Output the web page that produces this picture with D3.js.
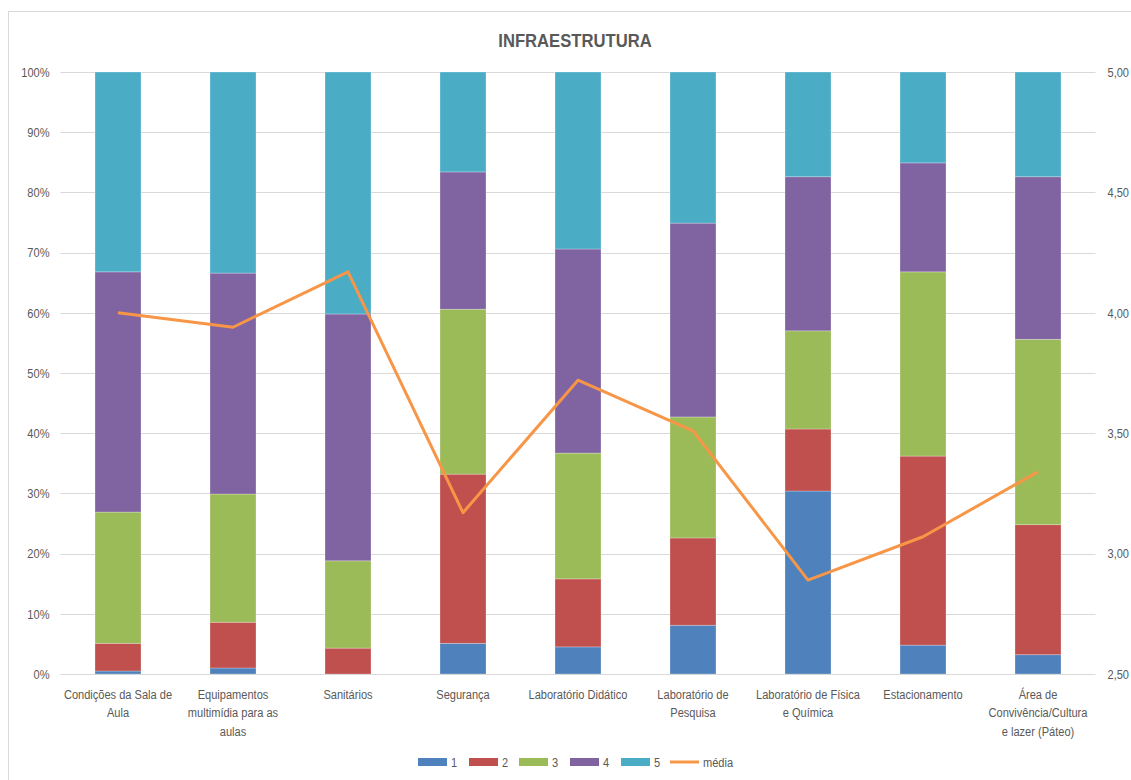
<!DOCTYPE html>
<html>
<head>
<meta charset="utf-8">
<script src="https://cdn.jsdelivr.net/npm/d3@7"></script>
<style>
  html, body { margin: 0; padding: 0; background: #ffffff; }
  svg { display: block; }
  text { font-family: "Liberation Sans", Arial, sans-serif; }
</style>
</head>
<body>
<svg id="chart" width="1131" height="780"></svg>
<script>
// Infrastructure survey: share of answers 1..5 per item (percent) and the mean score
const categories = [
  "Condições da Sala de Aula",
  "Equipamentos multimídia para as aulas",
  "Sanitários",
  "Segurança",
  "Laboratório Didático",
  "Laboratório de Pesquisa",
  "Laboratório de Física e Química",
  "Estacionamento",
  "Área de Convivência/Cultura e lazer (Páteo)"
];
const categoryLabelLines = [
  ["Condições da Sala de", "Aula"],
  ["Equipamentos", "multimídia para as", "aulas"],
  ["Sanitários"],
  ["Segurança"],
  ["Laboratório Didático"],
  ["Laboratório de", "Pesquisa"],
  ["Laboratório de Física", "e Química"],
  ["Estacionamento"],
  ["Área de", "Convivência/Cultura", "e lazer (Páteo)"]
];
const seriesNames = ["1", "2", "3", "4", "5"];
const score1 = [0.5, 1.0, 0.0, 5.1, 4.5, 8.1, 30.4, 4.8, 3.2];
const score2 = [4.6, 7.6, 4.3, 28.1, 11.3, 14.5, 10.3, 31.4, 21.6];
const score3 = [21.8, 21.3, 14.5, 27.4, 20.9, 20.1, 16.3, 30.6, 30.8];
const score4 = [39.9, 36.7, 41.0, 22.8, 33.9, 32.2, 25.6, 18.1, 27.0];
const score5 = [33.2, 33.4, 40.2, 16.6, 29.4, 25.1, 17.4, 15.1, 17.4];
const media  = [4.00, 3.94, 4.17, 3.17, 3.72, 3.51, 2.89, 3.07, 3.34];
const leftTicks  = [0, 10, 20, 30, 40, 50, 60, 70, 80, 90, 100];
const rightTicks = [2.5, 3.0, 3.5, 4.0, 4.5, 5.0];

const colors = ["#4F81BD", "#C0504D", "#9BBB59", "#8064A2", "#4BACC6"];
const lineColor = "#F79646";
const textColor = "#595959";
const gridColor = "#D9D9D9";
const narrowK = 0.82;   // horizontal squeeze for a condensed look

// squeeze text horizontally around its own x anchor
function condense(sel, k) {
  sel.each(function () {
    const xv = +this.getAttribute("x") || 0;
    d3.select(this).attr("transform", `translate(${xv * (1 - k)},0) scale(${k},1)`);
  });
}

const svg = d3.select("#chart");

// chart frame
svg.append("rect")
  .attr("x", 8.5).attr("y", 11.5)
  .attr("width", 1150).attr("height", 800)
  .attr("fill", "#ffffff")
  .attr("stroke", "#D9D9D9").attr("stroke-width", 1);

const plot = { left: 60.5, right: 1095.5, top: 72, bottom: 674 };

const x = d3.scaleBand()
  .domain(categories)
  .range([plot.left, plot.right])
  .paddingInner(0.6).paddingOuter(0.3);

const yL = d3.scaleLinear().domain([0, 100]).range([plot.bottom, plot.top]);
const yR = d3.scaleLinear().domain([2.5, 5.0]).range([plot.bottom, plot.top]);

// gridlines
svg.append("g")
  .selectAll("line")
  .data(leftTicks.filter(t => t > 0))
  .join("line")
  .attr("x1", plot.left).attr("x2", plot.right)
  .attr("y1", d => Math.round(yL(d)) + 0.5).attr("y2", d => Math.round(yL(d)) + 0.5)
  .attr("stroke", gridColor).attr("stroke-width", 1);

// stacked bars
const rows = categories.map((c, i) => ({
  cat: c, "1": score1[i], "2": score2[i], "3": score3[i], "4": score4[i], "5": score5[i]
}));
const stacked = d3.stack().keys(seriesNames)(rows);

svg.append("g")
  .selectAll("g")
  .data(stacked)
  .join("g")
  .attr("fill", (d, i) => colors[i])
  .selectAll("rect")
  .data(d => d)
  .join("rect")
  .attr("x", d => x(d.data.cat))
  .attr("width", x.bandwidth())
  .attr("y", d => yL(d[1]))
  .attr("height", d => Math.max(0, yL(d[0]) - yL(d[1])))
  .attr("stroke", "rgba(255,255,255,0.35)")
  .attr("stroke-width", 0.75);

// baseline
svg.append("line")
  .attr("x1", plot.left).attr("x2", plot.right)
  .attr("y1", plot.bottom + 0.5).attr("y2", plot.bottom + 0.5)
  .attr("stroke", gridColor).attr("stroke-width", 1);

// mean line on the secondary axis
const line = d3.line()
  .x((d, i) => x(categories[i]) + x.bandwidth() / 2)
  .y(d => yR(d));
svg.append("path")
  .datum(media)
  .attr("d", line)
  .attr("fill", "none")
  .attr("stroke", lineColor)
  .attr("stroke-width", 3)
  .attr("stroke-linejoin", "round");

// left axis labels
const leftAxis = d3.axisLeft(yL)
  .tickValues(leftTicks)
  .tickFormat(d => d + "%")
  .tickSize(0).tickPadding(11);
const gl = svg.append("g").attr("transform", `translate(${plot.left},0)`).call(leftAxis);
gl.select(".domain").remove();
gl.selectAll("text").attr("fill", textColor).style("font-size", "13.5px").style("font-family", null);
condense(gl.selectAll("text"), narrowK);

// right axis labels
const rightAxis = d3.axisRight(yR)
  .tickValues(rightTicks)
  .tickFormat(d => d3.format(".2f")(d).replace(".", ","))
  .tickSize(0).tickPadding(12);
const gr = svg.append("g").attr("transform", `translate(${plot.right},0)`).call(rightAxis);
gr.select(".domain").remove();
gr.selectAll("text").attr("fill", textColor).style("font-size", "13.5px");
condense(gr.selectAll("text"), narrowK);
gl.attr("font-family", null);
gr.attr("font-family", null);

// category labels
const xl = svg.append("g");
categories.forEach((c, i) => {
  const cx = x(c) + x.bandwidth() / 2;
  const t = xl.append("text")
    .attr("x", cx)
    .attr("y", 699)
    .attr("text-anchor", "middle")
    .attr("fill", textColor)
    .style("font-size", "13.5px");
  categoryLabelLines[i].forEach((ln, j) => {
    t.append("tspan")
      .attr("x", cx)
      .attr("dy", j === 0 ? 0 : 18.5)
      .text(ln);
  });
});
condense(xl.selectAll("text"), narrowK);

// title
const title = svg.append("text")
  .attr("x", 575).attr("y", 47)
  .attr("text-anchor", "middle")
  .attr("fill", textColor)
  .style("font-size", "18.5px").style("font-weight", "bold")
  .text("INFRAESTRUTURA");
condense(title, 0.9);

// legend
const legendItems = seriesNames.map((s, i) => ({ label: s, color: colors[i], type: "rect" }))
  .concat([{ label: "média", color: lineColor, type: "line" }]);
const legendX = [418, 469, 519, 570, 621, 670];
const lg = svg.append("g");
legendItems.forEach((it, i) => {
  const g = lg.append("g").attr("transform", `translate(${legendX[i]},762)`);
  if (it.type === "rect") {
    g.append("rect").attr("x", 0).attr("y", -4).attr("width", 29).attr("height", 8).attr("fill", it.color);
  } else {
    g.append("line").attr("x1", 0).attr("x2", 29).attr("y1", 0).attr("y2", 0)
      .attr("stroke", it.color).attr("stroke-width", 3);
  }
  const lt = g.append("text").attr("x", 33).attr("y", 5)
    .attr("fill", textColor).style("font-size", "13.5px")
    .text(it.label);
  condense(lt, narrowK);
});
</script>
</body>
</html>
